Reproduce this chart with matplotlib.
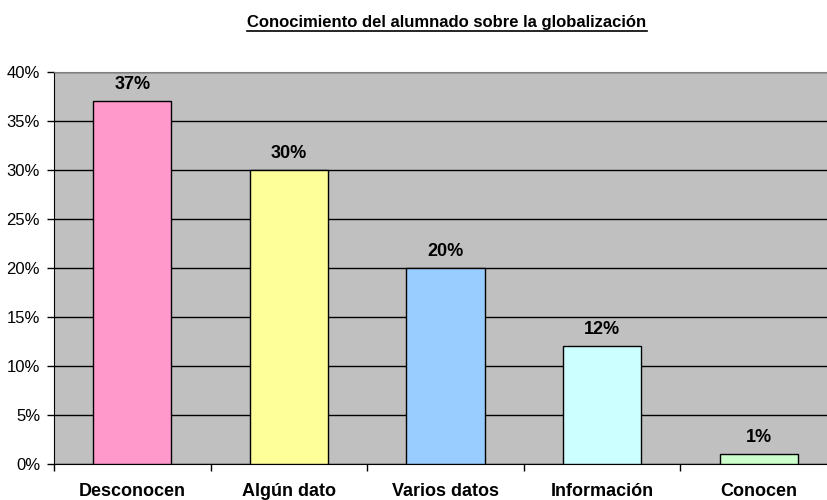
import numpy as np
import matplotlib.pyplot as plt
from matplotlib.lines import Line2D
from matplotlib.ticker import FixedLocator, FuncFormatter

categories = ["Desconocen", "Algún dato", "Varios datos", "Información", "Conocen"]
values = [37, 30, 20, 12, 1]
colours = ["#FF99CC", "#FFFF99", "#99CCFF", "#CCFFFF", "#CCFFCC"]

plt.rcParams["font.family"] = ["Liberation Sans", "DejaVu Sans"]

fig = plt.figure(figsize=(8.27, 5.0), dpi=100)
ax = fig.add_axes([54 / 827, 36 / 500, 783 / 827, 392 / 500])
ax.set_facecolor("#C0C0C0")

x = np.arange(len(categories))
ax.bar(x, values, width=0.5, color=colours, edgecolor="black", linewidth=1, zorder=3)

for xi, v in zip(x, values):
    ax.annotate(f"{v}%", (xi, v), xytext=(0, 6), textcoords="offset points",
                ha="center", va="bottom", fontsize=13, fontweight="bold")

ax.set_xlim(-0.5, len(categories) - 0.5)
ax.set_ylim(0, 40)
ax.set_yticks(np.arange(0, 41, 5))
ax.yaxis.set_major_formatter(FuncFormatter(lambda v, p: f"{int(v)}%"))
ax.yaxis.grid(True, color="black", linewidth=1, zorder=1)
ax.set_axisbelow(True)

ax.set_xticks(x)
ax.set_xticklabels(categories, fontsize=13, fontweight="bold")
ax.tick_params(axis="x", which="major", length=0, pad=14)
ax.xaxis.set_minor_locator(FixedLocator(np.arange(-0.5, len(categories), 1.0)))
ax.tick_params(axis="x", which="minor", length=5, direction="out", width=1)
ax.tick_params(axis="y", length=5, direction="out", width=1, labelsize=12, pad=5)

for s in ["left", "bottom"]:
    ax.spines[s].set_color("black")
ax.spines["top"].set_color("#808080")
ax.spines["right"].set_visible(False)

# titulo subrayado
title = fig.text(447 / 827, 1 - 27 / 500, "Conocimiento del alumnado sobre la globalización",
                 ha="center", va="baseline", fontsize=12, fontweight="bold")
fig.canvas.draw()
bb = title.get_window_extent().transformed(fig.transFigure.inverted())
uy = 1 - 31 / 500
fig.add_artist(Line2D([bb.x0, bb.x1], [uy, uy],
                      transform=fig.transFigure, color="black", linewidth=1.2))

fig.savefig("out.png", dpi=100)
